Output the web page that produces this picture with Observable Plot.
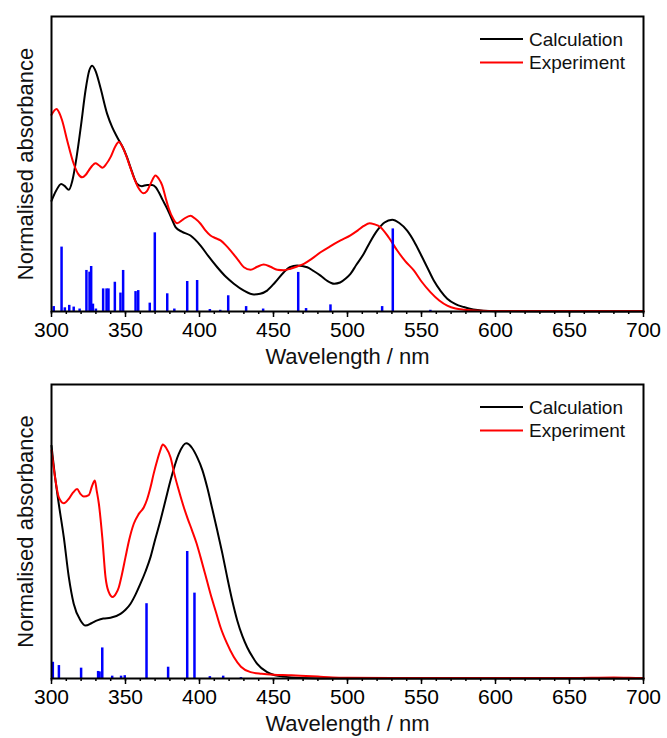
<!DOCTYPE html>
<html><head><meta charset="utf-8">
<script src="https://cdn.jsdelivr.net/npm/d3@7"></script>
<script src="https://cdn.jsdelivr.net/npm/@observablehq/plot@0.6"></script>
<style>body{margin:0;background:#fff} #chart svg{display:block}</style>
</head><body><div id="chart"></div><script>
const majorTicks = [300,350,400,450,500,550,600,650,700];
const minorTicks = d3.range(300, 701, 10);
const xLabel = "Wavelength / nm";
const yLabel = "Normalised absorbance";
const legendLabels = ["Calculation", "Experiment"];
const legendColors = ["#000000", "#ff0000"];

// Top panel
const topCalc = [[300,0.45],[303,0.49],[306.5,0.519],[309,0.51],[311.7,0.495],[314,0.53],[317,0.63],[320,0.76],[323,0.9],[325.5,0.98],[327.5,1.0],[330,0.975],[333,0.912],[337.6,0.804],[341,0.75],[344.4,0.709],[348,0.67],[351,0.628],[354,0.575],[357.9,0.519],[361,0.51],[364.6,0.515],[368,0.515],[370.5,0.505],[372.5,0.485],[375,0.455],[378.2,0.418],[381,0.38],[383.8,0.343],[388,0.325],[393.9,0.309],[400.7,0.268],[406,0.225],[412,0.18],[418,0.14],[423.2,0.113],[430,0.085],[436.7,0.069],[441,0.072],[445.7,0.085],[451,0.118],[457,0.16],[461,0.18],[466,0.187],[472.8,0.18],[477,0.165],[481.8,0.146],[486,0.126],[491,0.113],[495,0.118],[499,0.135],[502,0.153],[506,0.19],[511,0.235],[515,0.28],[520,0.329],[525,0.362],[530.2,0.373],[535,0.36],[540.3,0.329],[545,0.285],[549.3,0.235],[554,0.178],[558.3,0.126],[563,0.083],[567.4,0.052],[573,0.03],[578.6,0.018],[585,0.008],[592,0.003],[600,0.001],[650,0],[700,0]];
const topExp = [[300,0.8],[303.4,0.824],[305.5,0.805],[307.2,0.777],[310.6,0.696],[315,0.601],[318,0.56],[320.7,0.546],[323,0.555],[325.2,0.574],[327.5,0.593],[329.7,0.603],[332,0.595],[334.3,0.585],[337,0.6],[339.9,0.628],[343,0.67],[345.5,0.689],[347.5,0.675],[350,0.641],[353,0.59],[355.6,0.546],[359,0.5],[362,0.481],[364.5,0.49],[366.9,0.519],[370.3,0.553],[372.5,0.54],[374.8,0.513],[377,0.465],[379.3,0.418],[382,0.38],[384.9,0.359],[389,0.375],[393.9,0.39],[397,0.378],[400.7,0.357],[404,0.33],[407.4,0.309],[411,0.298],[414.2,0.289],[418,0.268],[421,0.248],[426,0.21],[430,0.18],[434.5,0.17],[439,0.182],[443.4,0.191],[448,0.182],[452.5,0.17],[457,0.168],[461.5,0.174],[466,0.183],[470.5,0.194],[476,0.215],[481.8,0.241],[488,0.264],[495.3,0.289],[502,0.31],[507,0.33],[511,0.348],[515,0.359],[518,0.355],[522.3,0.343],[528,0.3],[533.6,0.248],[539,0.205],[544.8,0.167],[550,0.122],[556,0.079],[562,0.045],[567.4,0.024],[573,0.012],[578.6,0.007],[590,0.003],[600,0.002],[700,0.002]];
const topSticks = [[301.5,0.02],[306.8,0.262],[309,0.015],[312,0.025],[315,0.018],[319,0.01],[323.6,0.167],[325.7,0.16],[326.8,0.183],[328,0.03],[330,0.01],[334.9,0.092],[337.2,0.092],[338.5,0.092],[342.8,0.119],[346.6,0.075],[348.4,0.167],[356.8,0.081],[358.6,0.085],[366.4,0.034],[369.8,0.32],[378.2,0.072],[383,0.01],[391.7,0.122],[398.4,0.126],[407,0.008],[414,0.005],[419.4,0.064],[431.5,0.02],[443,0.01],[466.7,0.159],[472,0.012],[488.5,0.027],[523.4,0.02],[530.6,0.336],[556,0.005]];

// Bottom panel
const botCalc = [[300,0.99],[302.7,0.842],[304.9,0.743],[308.3,0.601],[311.7,0.431],[315,0.318],[319.6,0.247],[323,0.225],[327,0.235],[330.9,0.247],[335,0.255],[339.9,0.258],[346.6,0.275],[350,0.292],[353.4,0.318],[357,0.36],[360.1,0.403],[363.5,0.455],[366.9,0.516],[370,0.59],[373.6,0.672],[377,0.757],[380.4,0.842],[386,0.955],[391,1.0],[395,0.98],[398.4,0.941],[402,0.885],[405.2,0.813],[408.5,0.725],[412,0.629],[415.5,0.53],[418.7,0.431],[422,0.335],[425.5,0.247],[429,0.18],[432.2,0.133],[436,0.09],[439,0.062],[445.7,0.027],[451,0.014],[457,0.008],[468,0.002],[480,0],[700,0]];
const botExp = [[300,0.97],[302.7,0.842],[304.9,0.771],[308.3,0.745],[311.7,0.764],[314.5,0.79],[317.3,0.806],[319.5,0.785],[321.8,0.774],[325.2,0.78],[327.5,0.82],[329.3,0.842],[330.5,0.8],[332,0.743],[334.3,0.601],[336.5,0.431],[338.5,0.37],[341.4,0.346],[343.5,0.36],[345.5,0.388],[347.5,0.44],[350,0.516],[352.5,0.59],[355.6,0.658],[359,0.7],[362.4,0.728],[364.5,0.76],[366.9,0.813],[369,0.87],[371.4,0.927],[373.5,0.97],[375.2,0.995],[377.5,0.98],[380.4,0.941],[383,0.87],[386,0.8],[389.4,0.728],[392,0.68],[395,0.629],[398,0.575],[400.7,0.516],[404,0.44],[407.4,0.36],[411,0.285],[414.2,0.218],[418.5,0.15],[423.2,0.091],[428,0.05],[434.5,0.027],[442,0.02],[450,0.016],[460,0.014],[468,0.012],[480,0.008],[490,0.004],[500,0.003],[550,0.002],[600,0.002],[650,0.002],[680,0.004],[690,0.003],[700,0.002]];
const botSticks = [[300.9,0.069],[305,0.055],[320,0.044],[331.5,0.03],[332.5,0.028],[334.3,0.13],[341,0.01],[347,0.01],[349.5,0.012],[364.2,0.318],[378.8,0.048],[391.7,0.54],[396.6,0.363],[407,0.008],[416,0.01],[428,0.004]];

const FONT = "'Liberation Sans', Arial, sans-serif";

function legendMark(mt) {
  return function(index, scales, values, dims) {
    const W = dims ? dims.width : 667, MR = dims ? dims.marginRight : 24, MT = dims ? dims.marginTop : mt;
    const xr = W - MR;
    const g = d3.create("svg:g");
    legendLabels.forEach((lab, i) => {
      const y = MT + 23 + i * 23.5;
      g.append("line").attr("x1", xr - 163).attr("x2", xr - 120).attr("y1", y).attr("y2", y)
        .attr("stroke", legendColors[i]).attr("stroke-width", 2);
      g.append("text").attr("x", xr - 114).attr("y", y).attr("dy", "0.35em")
        .attr("text-anchor", "start")
        .attr("font-size", 19).attr("font-family", FONT).attr("fill", "#111").text(lab);
    });
    return g.node();
  };
}

function panel({calc, exp, sticks, yMax, marginTop, marginBottom, height}) {
  return Plot.plot({
    width: 667, height, marginLeft: 51, marginRight: 24, marginTop, marginBottom,
    style: {fontFamily: FONT, background: "white", overflow: "visible"},
    x: {domain: [300, 700]},
    y: {domain: [0, yMax], axis: null},
    marks: [
      Plot.line(calc, {x: d => d[0], y: d => d[1], stroke: "#000", strokeWidth: 2, curve: "monotone-x"}),
      Plot.line(exp, {x: d => d[0], y: d => d[1], stroke: "#ff0000", strokeWidth: 2, curve: "monotone-x"}),
      Plot.ruleX(sticks, {x: d => d[0], y1: 0, y2: d => d[1], stroke: "#0000ff", strokeWidth: 2.5}),
      Plot.axisX({ticks: minorTicks, tickSize: 3, tickFormat: () => "", label: null, strokeWidth: 1.5}),
      Plot.axisX({ticks: majorTicks, tickSize: 6, tickPadding: 5, fontSize: 21, label: null, strokeWidth: 1.5, tickFormat: d => String(d)}),
      Plot.text([xLabel], {frameAnchor: "bottom", lineAnchor: "middle", textAnchor: "middle", dy: 45, fontSize: 22, fill: "#111"}),
      Plot.text([yLabel], {frameAnchor: "left", textAnchor: "middle", lineAnchor: "middle", dx: -26, rotate: -90, fontSize: 22, fill: "#111"}),
      Plot.frame({stroke: "#000", strokeWidth: 2}),
      legendMark(marginTop)
    ]
  });
}

const chart = document.getElementById("chart");
chart.append(panel({calc: topCalc, exp: topExp, sticks: topSticks, yMax: 1.2, marginTop: 16, marginBottom: 58, height: 369}));
chart.append(panel({calc: botCalc, exp: botExp, sticks: botSticks, yMax: 1.25, marginTop: 15, marginBottom: 60, height: 369}));
</script></body></html>
